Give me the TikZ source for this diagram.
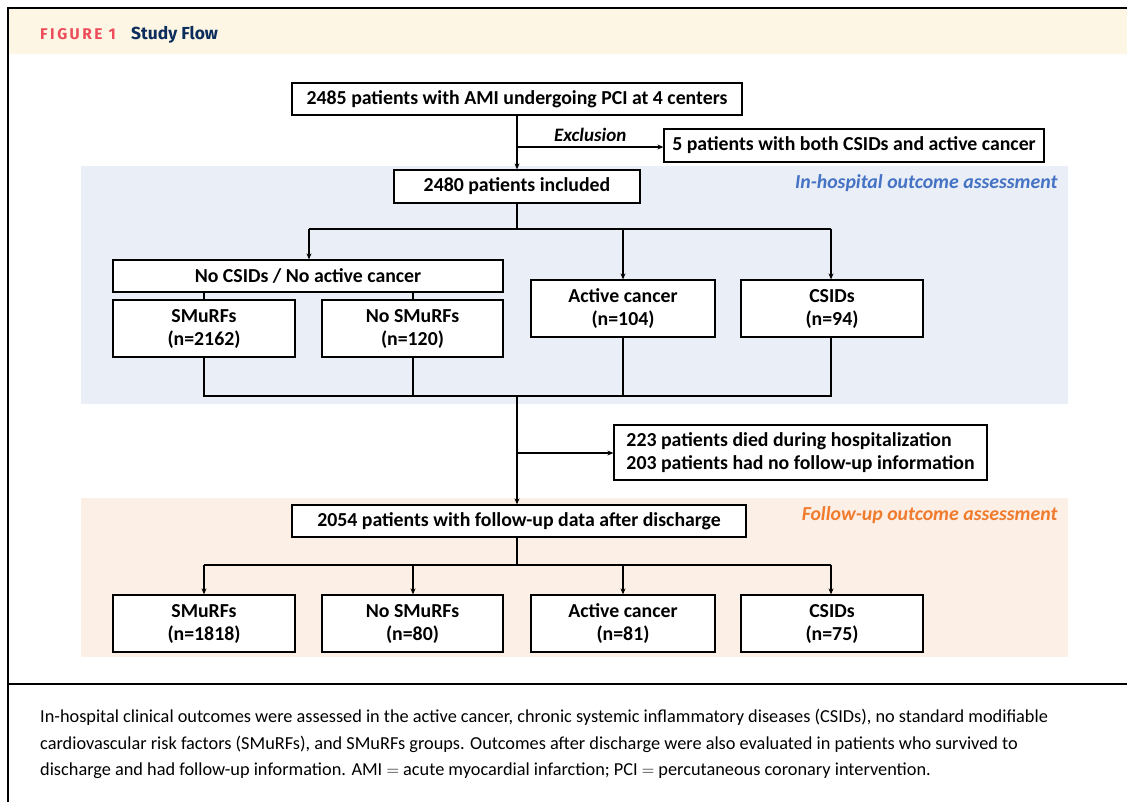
\documentclass[tikz,border=0pt]{standalone}
\usepackage{fontspec}
\setmainfont{Carlito}
\newfontfamily\headfont[LetterSpace=16]{Fira Sans}
\newfontfamily\titlefont{Fira Sans}
\usetikzlibrary{arrows.meta}
\definecolor{hdr}{HTML}{FDF6E4}
\definecolor{bluebg}{HTML}{E9EEF7}
\definecolor{peachbg}{HTML}{FBEFE6}
\definecolor{figred}{HTML}{EE4B5A}
\definecolor{navy}{HTML}{0B2D5B}
\definecolor{blueital}{HTML}{4472C4}
\definecolor{orangeital}{HTML}{F07B2D}
\begin{document}
\begin{tikzpicture}[x=1pt,y=-1pt,
  box/.style={draw, line width=1.3pt, fill=white, font=\fontsize{19.8}{23}\selectfont\bfseries, inner sep=0pt, align=center},
  conn/.style={line width=1.2pt},
  arr/.style={conn,-{Stealth[length=6pt,width=5pt]}},
  region/.style={font=\fontsize{19.8}{22}\selectfont\bfseries\itshape, anchor=east}]
\useasboundingbox (0,0) rectangle (1127,801);
\clip (0,0) rectangle (1127,801);
% frame and header
\fill[hdr] (9,9) rectangle (1127,54);
\draw[line width=2pt] (8,8) rectangle (1140,812);
\draw[line width=1.3pt] (8,684) -- (1127,684);
\node[anchor=base west, inner sep=0pt, text=figred, font=\headfont\fontsize{15.5}{17}\selectfont\bfseries] (fig) at (40,39) {FIGURE 1};
\node[anchor=base west, inner sep=0pt, text=navy, font=\titlefont\fontsize{17.4}{19}\selectfont\bfseries] (title) at (131,39) {Study Flow};
% backgrounds
\fill[bluebg] (81,166) rectangle (1068,404);
\fill[peachbg] (81,498) rectangle (1068,657);
\node[region, text=blueital] (inh) at (1061,183) {In-hospital outcome assessment};
\node[region, text=orangeital] (fol) at (1061,515) {Follow-up outcome assessment};
% boxes
\node[box, minimum width=450pt, minimum height=32pt] (top) at (517,99) {2485 patients with AMI undergoing PCI at 4 centers};
\node[box, minimum width=380pt, minimum height=33pt] (excl) at (854,145.5) {5 patients with both CSIDs and active cancer};
\node[box, minimum width=246pt, minimum height=33pt] (incl) at (517,186.5) {2480 patients included};
\node[box, minimum width=390pt, minimum height=32pt] (nocs) at (308,276) {No CSIDs / No active cancer};
\node[box, minimum width=182pt, minimum height=57pt] (sm1) at (204,328.5) {SMuRFs\\(n=2162)};
\node[box, minimum width=181pt, minimum height=57pt] (nsm1) at (412.5,328.5) {No SMuRFs\\(n=120)};
\node[box, minimum width=184pt, minimum height=57pt] (ac1) at (623,308.5) {Active cancer\\(n=104)};
\node[box, minimum width=182pt, minimum height=57pt] (cs1) at (832,308.5) {CSIDs\\(n=94)};
\node[box, minimum width=373pt, minimum height=55pt, align=left] (died) at (800.5,452.5) {223 patients died during hospitalization\\203 patients had no follow-up information};
\node[box, minimum width=454pt, minimum height=32pt] (fu) at (519,521) {2054 patients with follow-up data after discharge};
\node[box, minimum width=182pt, minimum height=57pt] (sm2) at (204,623.5) {SMuRFs\\(n=1818)};
\node[box, minimum width=181pt, minimum height=57pt] (nsm2) at (412.5,623.5) {No SMuRFs\\(n=80)};
\node[box, minimum width=184pt, minimum height=57pt] (ac2) at (623,623.5) {Active cancer\\(n=81)};
\node[box, minimum width=182pt, minimum height=57pt] (cs2) at (832,623.5) {CSIDs\\(n=75)};
% connectors
\coordinate (ex) at (517,147);
\draw[arr] (top.south -| ex) -- (incl.north -| ex);
\draw[arr] (ex) -- node[above=1pt, font=\fontsize{19}{21}\selectfont\bfseries\itshape] (exlab) {Exclusion} (ex -| excl.west);
\coordinate (s1) at (517,229);
\draw[conn] (incl.south -| s1) -- (s1);
\draw[conn] (309,229) -- (831,229);
\draw[arr] (309,229) -- (nocs.north -| 309,0);
\draw[arr] (623,229) -- (ac1.north);
\draw[arr] (831,229) -- (cs1.north -| 831,0);
\draw[conn] (nocs.south -| sm1.north) -- (sm1.north);
\draw[conn] (nocs.south -| 413,0) -- (sm1.north -| 413,0);
\coordinate (j) at (517,396);
\draw[conn] (sm1.south) -- (sm1.south |- j) -- (j -| 831,0) -- (cs1.south -| 831,0);
\draw[conn] (nsm1.south -| 413,0) -- (j -| 413,0);
\draw[conn] (ac1.south) -- (ac1.south |- j);
\draw[arr] (j) -- (fu.north -| j);
\draw[arr] (517,453) -- (died.west |- 0,453);
\coordinate (s2) at (517,565);
\draw[conn] (fu.south -| s2) -- (s2);
\draw[conn] (204,565) -- (831,565);
\draw[arr] (204,565) -- (sm2.north);
\draw[arr] (413,565) -- (nsm2.north -| 413,0);
\draw[arr] (623,565) -- (ac2.north);
\draw[arr] (831,565) -- (cs2.north -| 831,0);
% caption
\node[anchor=north west, inner sep=0pt, align=left, font=\fontsize{18.3}{26.5}\selectfont] (cap) at (40,709) {In-hospital clinical outcomes were assessed in the active cancer, chronic systemic inflammatory diseases (CSIDs), no standard modifiable\\cardiovascular risk factors (SMuRFs), and SMuRFs groups. Outcomes after discharge were also evaluated in patients who survived to\\discharge and had follow-up information. AMI $=$ acute myocardial infarction; PCI $=$ percutaneous coronary intervention.};
\end{tikzpicture}
\end{document}
